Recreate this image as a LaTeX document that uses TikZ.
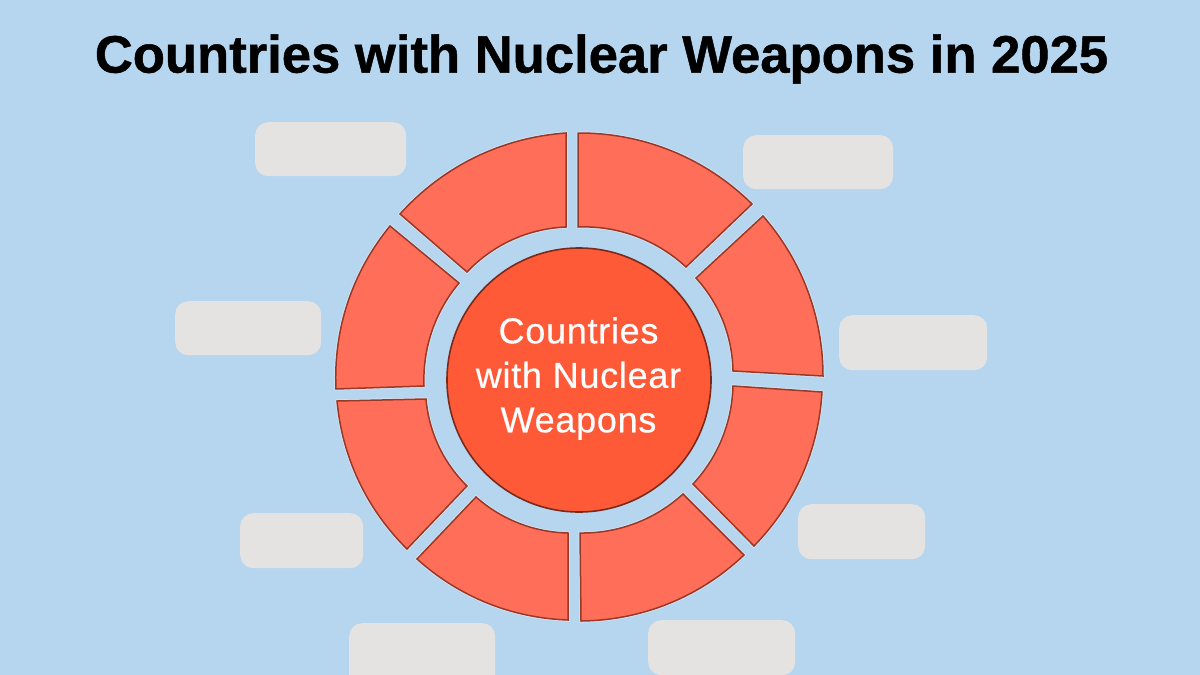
\documentclass[tikz,border=0pt]{standalone}
\usepackage{fontspec}
\setmainfont{Liberation Sans}
\definecolor{bgblue}{HTML}{B6D5EF}
\definecolor{segred}{HTML}{FF6E58}
\definecolor{hubred}{HTML}{FF5A38}
\definecolor{segline}{HTML}{983826}
\definecolor{hubline}{HTML}{7A2A1A}
\definecolor{labgray}{HTML}{E4E3E1}
\tikzset{
  seg/.style={fill=segred,draw=segline,line width=1.5pt,line join=miter,
    preaction={draw=white,line width=3pt,opacity=.45}},
  lab/.style={fill=labgray,rounded corners=13pt,draw=none,inner sep=0pt,anchor=north west},
  hub/.style={circle,fill=hubred,draw=hubline,line width=1.6pt,inner sep=0pt,minimum size=264pt}
}
% \segm{a}{b}{c}{d}{outer bend}{inner bend}: a->b outer arc clockwise on screen, c->d inner arc back
\newcommand{\segm}[6]{\draw[seg] #1 to[bend left=#5,looseness=0.89] #2 -- #3 to[bend right=#6,looseness=0.89] #4 -- cycle;}
\begin{document}
\begin{tikzpicture}[x=1pt,y=-1pt]
\path[use as bounding box,fill=bgblue] (0,0) rectangle (1200,675);
\node[font=\fontsize{52.6}{54}\selectfont\bfseries\addfontfeature{FakeBold=0.9},text=black] (title) at (601.5,59) {Countries with Nuclear Weapons in 2025};
\node[lab,minimum width=151pt,minimum height=54pt] (l1) at (255,122) {};
\node[lab,minimum width=150pt,minimum height=54pt] (l2) at (743,135) {};
\node[lab,minimum width=146pt,minimum height=54pt] (l3) at (175,301) {};
\node[lab,minimum width=148pt,minimum height=55pt] (l4) at (839,315) {};
\node[lab,minimum width=123pt,minimum height=55pt] (l5) at (240,513) {};
\node[lab,minimum width=127pt,minimum height=55pt] (l6) at (798,504) {};
\begin{scope}
\clip (0,0) rectangle (1200,675);
\node[lab,minimum width=146pt,minimum height=70pt] (l7) at (349,623) {};
\node[lab,minimum width=147pt,minimum height=55pt] (l8) at (648,620) {};
\end{scope}
\segm{(400,214)}{(566,133)}{(566,227)}{(467,272)}{22}{22}
\segm{(578,133)}{(752,204)}{(686,267)}{(578,227)}{22.5}{22.5}
\segm{(763,216)}{(823,376)}{(733,371)}{(696,278)}{20.5}{20.5}
\segm{(822,392)}{(754,546)}{(693,484)}{(733,386)}{20.5}{20.5}
\segm{(744,555)}{(581,621)}{(580,533)}{(683,494)}{21.5}{21.5}
\segm{(568,620)}{(417,559)}{(476,497)}{(568,533)}{20}{20}
\segm{(407,549)}{(337,401)}{(426,399)}{(467,486)}{20}{20}
\segm{(336,389)}{(390,226)}{(459,283)}{(424,386)}{21}{21}
\node[hub] (hub) at (579,380) {};
\node[font=\fontsize{36}{44.5}\selectfont\addfontfeature{FakeBold=0.4,LetterSpace=2},text=white,align=center] (hubtext) at (578.5,378.5) {Countries\\with Nuclear\\Weapons};
\end{tikzpicture}
\end{document}
